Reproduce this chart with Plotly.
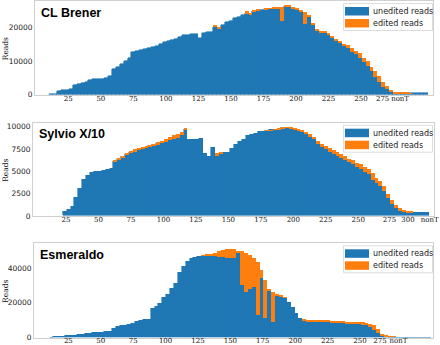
import plotly.graph_objects as go

W, H = 440, 345

# ---------------- data ----------------
cl_start = 12
cl_unedited = [100, 100, 900, 1300, 1300, 1500, 2700, 3200, 3500, 3800, 4300, 4500, 4600, 4700, 5000, 5400,
               7700, 8200, 9200, 10000, 10800, 12600, 13100, 13400, 13600, 13900, 14200, 14500, 15200, 15800,
               16100, 16300, 16700, 17200, 17700, 17800, 18000, 18200, 16800, 18500, 18600, 18800, 20200, 19800,
               20800, 21500, 22000, 22700, 23200, 23800, 24300, 23900, 24900, 25100, 25300, 25500, 25600, 25600,
               25800, 22000, 26400, 26200, 25600, 25300, 24800, 21000, 23200, 20800, 19000, 18600, 18400, 18000,
               16800, 15900, 15300, 14400, 13800, 12800, 12000, 11000, 9800, 8600, 7000, 5200, 3600, 2300, 1600,
               800, 200, 200, 200, 250, 350, 400, 400, 350, 300]
cl_edited = [0, 0, 0, 0, 0, 0, 0, 0, 0, 0, 0, 0, 0, 0, 0, 0,
             0, 0, 0, 0, 0, 0, 0, 0, 0, 0, 0, 0, 0, 0,
             0, 0, 0, 0, 0, 0, 0, 0, 0, 0, 0, 0, 400, 200,
             0, 0, 0, 0, 0, 0, 500, 500, 300, 300, 0, 200, 200, 300,
             200, 4200, 200, 300, 300, 300, 300, 3500, 300, 300, 400, 400, 400, 500,
             700, 700, 600, 800, 900, 1000, 1000, 1400, 1000, 1300, 1200, 1800, 1900, 1500, 900,
             300, 400, 400, 300, 200, 50, 0, 0, 0, 0]

sy_start = 24
sy_unedited = [500, 670, 1050, 2000, 3100, 4100, 4500, 4900, 4950, 4970, 5050, 5150, 5300, 6100, 6350, 6600,
               6900, 7100, 7250, 7400, 7550, 7700, 7850, 7950, 8100, 8200, 8300, 8500, 8650, 8800, 9100, 9700,
               8500, 8500, 8600, 8700, 7000, 6700, 7650, 6800, 7000, 7050, 7100, 7500, 8050, 8300, 8600, 9050,
               9150, 9250, 9400, 9500, 9570, 9620, 9680, 9720, 9850, 9900, 9880, 9780, 9660, 9500, 9300, 9000,
               8650, 8100, 7800, 7500, 7250, 7000, 6800, 6550, 6300, 6050, 5900, 5500, 5300, 5000, 4700, 4100,
               3700, 3400, 2800, 2000, 1400, 950, 700, 500, 450, 450, 420, 400, 380, 350]
sy_edited = [0, 0, 0, 0, 0, 0, 0, 0, 0, 0, 0, 0, 0, 150, 100, 150,
             200, 200, 250, 250, 200, 200, 200, 200, 200, 250, 350, 400, 450, 450, 300, 100,
             0, 0, 0, 0, 0, 0, 0, 300, 150, 0, 0, 0, 0, 0, 0, 0,
             0, 0, 0, 0, 50, 50, 50, 80, 100, 100, 100, 100, 120, 150, 200, 200,
             250, 350, 350, 400, 400, 450, 450, 450, 450, 400, 400, 500, 550, 550, 600, 700,
             650, 600, 550, 550, 450, 300, 200, 200, 150, 100, 0, 0, 0, 0]

es_start = 12
es_unedited = [400, 500, 580, 800, 1000, 1200, 1500, 1800, 2000, 2300, 2500, 2800, 3000, 3200, 3400, 3600,
               5400, 6200, 6800, 7200, 7600, 8300, 9200, 9800, 10400, 10800, 16700, 17800, 19500, 23500, 25000,
               28500, 31500, 37500, 41000, 44000, 45500, 46400, 46700, 46900, 47100, 47300, 47000, 46500, 46200,
               46000, 45800, 45600, 49000, 30000, 26000, 28000, 29000, 13000, 34000, 11000, 27000, 8500, 24000,
               23600, 22700, 20500, 17500, 14200, 11200, 9700, 9300, 9200, 9200, 9100, 9000, 8800, 8600, 8500,
               8400, 8300, 8100, 8000, 7900, 7700, 7500, 7300, 6000, 4000, 2500, 800, 450, 400, 380, 350, 330,
               300, 280, 260, 250, 230, 220, 200]
es_edited = [0, 0, 0, 0, 0, 0, 0, 0, 0, 0, 0, 0, 0, 0, 0, 0,
             0, 0, 0, 0, 0, 0, 0, 0, 0, 0, 0, 0, 0, 0, 0,
             0, 0, 0, 0, 0, 0, 0, 0, 300, 600, 1000, 1800, 3200, 4200,
             5000, 5300, 5400, 1000, 19500, 22500, 19500, 17000, 30500, 5000, 22000, 1000, 17500, 800,
             300, 200, 0, 0, 0, 0, 400, 500, 600, 600, 600, 600, 600, 600, 700,
             700, 700, 800, 800, 900, 1000, 1000, 1000, 1800, 2800, 2500, 1200, 300, 200, 100, 0, 0,
             0, 0, 0, 0, 0, 0, 0]

titles = ["CL Brener", "Sylvio X/10", "Esmeraldo"]
legend_labels = ["unedited reads", "edited reads"]
x_tick_text = [
    ["25", "50", "75", "100", "125", "150", "175", "200", "225", "250", "275", "nonT"],
    ["25", "50", "75", "100", "125", "150", "175", "200", "225", "250", "275", "300", "nonT"],
    ["25", "50", "75", "100", "125", "150", "175", "200", "225", "250", "275", "nonT"],
]
x_tick_pos = [
    [25, 50, 75, 100, 125, 150, 175, 200, 225, 250, 266.6, 280],
    [25, 50, 75, 100, 125, 150, 175, 200, 225, 250, 274, 288.3, 305],
    [25, 50, 75, 100, 125, 150, 175, 200, 225, 250, 265.4, 279.6],
]
y_tick_vals = [
    [0, 10000, 20000],
    [0, 2500, 5000, 7500, 10000],
    [0, 20000, 40000],
]

BLUE = "#1f77b4"
ORANGE = "#ff7f0e"
STRIDE = 3

panels = [
    (cl_start, cl_unedited, cl_edited),
    (sy_start, sy_unedited, sy_edited),
    (es_start, es_unedited, es_edited),
]

# geometry in pixels: (x0, x1, y_top, y_bottom, x_range, y_max, label standoff)
geo = [
    (35, 433, 1.0, 94.5, [-0.6, 305.3], 27900, -3),
    (33, 434, 122.7, 216.0, [-0.4, 308.3], 10460, -3),
    (34, 433, 243.3, 337.5, [-1.5, 306.3], 54400, -4),
]


def px(x):
    return x / W


def py(y):
    return 1 - y / H


fig = go.Figure()
shapes = []
annotations = []

for i, ((start, une, edi), g) in enumerate(zip(panels, geo)):
    n = min(len(une), len(edi))
    pos = [start + STRIDE * k for k in range(n)]
    xa = "x" if i == 0 else f"x{i+1}"
    ya = "y" if i == 0 else f"y{i+1}"
    fig.add_trace(go.Bar(x=pos, y=une[:n], width=STRIDE, marker=dict(color=BLUE, line=dict(width=0.6, color=BLUE)),
                         xaxis=xa, yaxis=ya, showlegend=False, name=legend_labels[0]))
    fig.add_trace(go.Bar(x=pos, y=edi[:n], width=STRIDE, marker=dict(color=ORANGE, line=dict(width=0)),
                         xaxis=xa, yaxis=ya, showlegend=False, name=legend_labels[1]))
    x0, x1, yt, yb, xr, ymax, sto = g
    xkey = "xaxis" if i == 0 else f"xaxis{i+1}"
    ykey = "yaxis" if i == 0 else f"yaxis{i+1}"
    fig.layout[xkey] = dict(domain=[px(x0), px(x1)], range=xr, anchor=ya, showgrid=False, zeroline=False,
                            showline=True, mirror=True, linecolor="#d0d0d0", linewidth=1,
                            tickvals=x_tick_pos[i], ticktext=x_tick_text[i], ticks="", tickangle=0,
                            ticklabelstandoff=sto,
                            tickfont=dict(family="DejaVu Serif", size=7, color="#111"), automargin=False)
    fig.layout[ykey] = dict(domain=[py(yb), py(yt)], range=[0, ymax], anchor=xa, showgrid=False, zeroline=False,
                            showline=True, mirror=True, linecolor="#d0d0d0", linewidth=1,
                            tickvals=y_tick_vals[i], tickformat="d", ticks="",
                            tickfont=dict(family="DejaVu Sans", size=7.5, color="#222"), automargin=False)
    # title
    annotations.append(dict(x=px(x0 + 4), y=py(yt + 11.7), xref="paper", yref="paper", xanchor="left",
                            yanchor="middle", text=titles[i], showarrow=False,
                            font=dict(family="Liberation Sans", size=12.5, color="#000", weight="bold")))
    # y label
    annotations.append(dict(x=px(5.5), y=py((yt + yb) / 2 + 1), xref="paper", yref="paper", xanchor="center",
                            yanchor="middle", text="Reads", textangle=-90, showarrow=False,
                            font=dict(family="DejaVu Serif", size=7.5, color="#111")))
    # legend box
    shapes.append(dict(type="rect", xref="paper", yref="paper", x0=px(343.5), x1=px(432.5),
                       y0=py(yt + 29.5), y1=py(yt + 2.5), line=dict(color="#dddddd", width=1),
                       fillcolor="rgba(255,255,255,0.85)", layer="above"))
    shapes.append(dict(type="rect", xref="paper", yref="paper", x0=px(345), x1=px(369),
                       y0=py(yt + 14.5), y1=py(yt + 6), line=dict(width=0), fillcolor=BLUE, layer="above"))
    shapes.append(dict(type="rect", xref="paper", yref="paper", x0=px(345), x1=px(369),
                       y0=py(yt + 26.5), y1=py(yt + 18), line=dict(width=0), fillcolor=ORANGE, layer="above"))
    for j, lab in enumerate(legend_labels):
        annotations.append(dict(x=px(370.5), y=py(yt + 10.3 + 12 * j), xref="paper", yref="paper",
                                xanchor="left", yanchor="middle", text=lab, showarrow=False,
                                font=dict(family="DejaVu Sans", size=8, color="#222")))

fig.update_layout(width=W, height=H, margin=dict(l=0, r=0, t=0, b=0), barmode="stack", bargap=0,
                  paper_bgcolor="white", plot_bgcolor="white", shapes=shapes, annotations=annotations,
                  showlegend=False)

fig.write_html("out.html")
